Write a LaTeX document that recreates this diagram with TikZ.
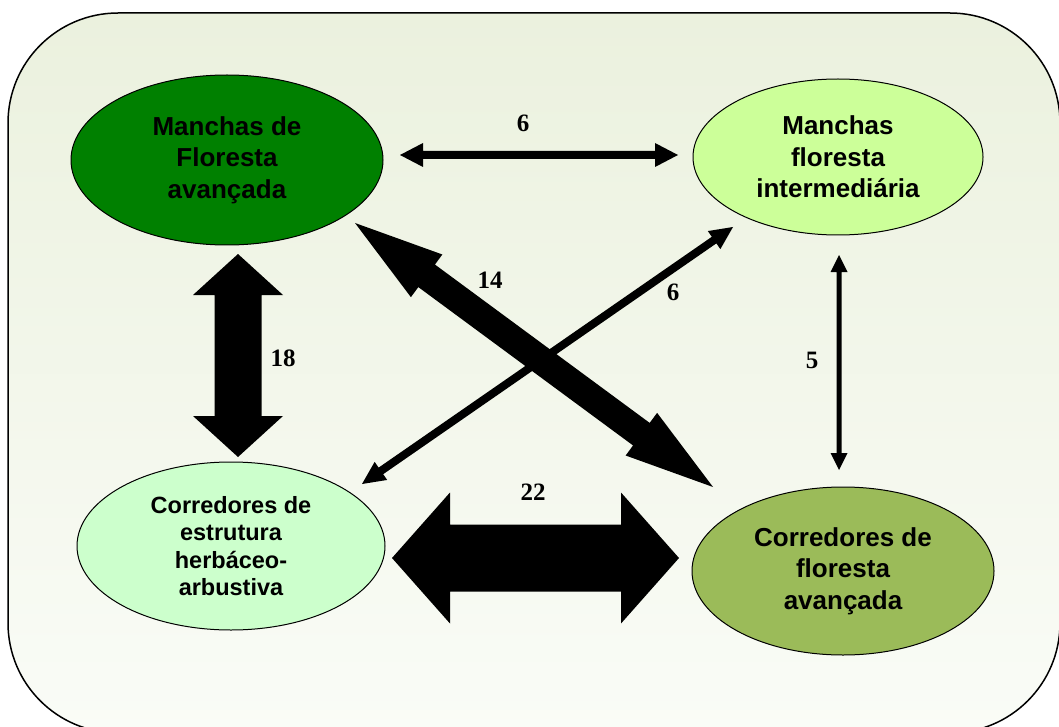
\documentclass[tikz,border=0pt]{standalone}
\usepackage{fontspec}
\setmainfont{Liberation Serif}
\newfontfamily\arialfont{Liberation Sans}
\usetikzlibrary{shapes.geometric,calc}
\definecolor{bgtop}{RGB}{235,241,222}
\definecolor{bgbot}{RGB}{250,252,247}
\definecolor{darkgreen}{RGB}{0,128,0}
\definecolor{lightgreen}{RGB}{204,255,153}
\definecolor{palegreen}{RGB}{204,255,204}
\definecolor{olivegreen}{RGB}{155,187,89}
\newcommand\DArrow[5]{% from, to, shaft half width, head half width, head length
  \fill[black] (#1)
    -- ($(#1)!#5!(#2)!#4!90:(#2)$)
    -- ($(#1)!#5!(#2)!#3!90:(#2)$)
    -- ($(#2)!#5!(#1)!#3!-90:(#1)$)
    -- ($(#2)!#5!(#1)!#4!-90:(#1)$)
    -- (#2)
    -- ($(#2)!#5!(#1)!#4!90:(#1)$)
    -- ($(#2)!#5!(#1)!#3!90:(#1)$)
    -- ($(#1)!#5!(#2)!#3!-90:(#2)$)
    -- ($(#1)!#5!(#2)!#4!-90:(#2)$)
    -- cycle;}
\tikzset{
  zone/.style={ellipse, draw=black, line width=1pt, inner sep=0pt, align=center,
    font=\arialfont\bfseries\fontsize{26}{31.5}\selectfont},
  num/.style={font=\bfseries\fontsize{25}{28}\selectfont, inner sep=0pt},
}
\begin{document}
\begin{tikzpicture}[x=1pt,y=-1pt]
\useasboundingbox (0,0) rectangle (1059,727);
\clip (0,0) rectangle (1059,727);
\shade[top color=bgtop, bottom color=bgbot, draw=black, line width=1.5pt, rounded corners=110pt]
  (8,13) rectangle (1060,733);
% zones
\node[zone, fill=darkgreen, minimum width=312pt, minimum height=170pt] (mfa) at (227,160) {Manchas de\\Floresta\\avançada};
\node[zone, fill=lightgreen, minimum width=290pt, minimum height=156pt] (mfi) at (838,157) {Manchas\\floresta\\intermediária};
\node[zone, fill=palegreen, minimum width=308pt, minimum height=168pt,
  font=\arialfont\bfseries\fontsize{23.5}{27.5}\selectfont] (ceh) at (231,546) {Corredores de\\estrutura\\herbáceo-\\arbustiva};
\node[zone, fill=olivegreen, minimum width=302pt, minimum height=168pt] (cfa) at (843,571) {Corredores de\\floresta\\avançada};
% arrow end points
\coordinate (tA) at (400,155);  \coordinate (tB) at (678,155);
\coordinate (rA) at (839,255);  \coordinate (rB) at (839,470);
\coordinate (lA) at (238,254);  \coordinate (lB) at (238,457);
\coordinate (bA) at (392,558);  \coordinate (bB) at (679,558);
\coordinate (dA) at (355,223);  \coordinate (dB) at (713,487);
\coordinate (eA) at (362,484);  \coordinate (eB) at (733,227);
% connectors
\DArrow{tA}{tB}{4pt}{12pt}{23pt}
\DArrow{rA}{rB}{2.5pt}{8.5pt}{17pt}
\DArrow{lA}{lB}{23.5pt}{45pt}{41pt}
\DArrow{bA}{bB}{33.5pt}{65.5pt}{58pt}
\DArrow{eA}{eB}{4pt}{11pt}{23pt}
\DArrow{dA}{dB}{14pt}{26.5pt}{89pt}
% labels
\node[num] (n6a) at (523,123) {6};
\node[num] (n18) at (283,358) {18};
\node[num] (n22) at (533,492) {22};
\node[num] (n14) at (490,280) {14};
\node[num] (n6b) at (673,292) {6};
\node[num] (n5) at (812,360) {5};
\end{tikzpicture}
\end{document}
